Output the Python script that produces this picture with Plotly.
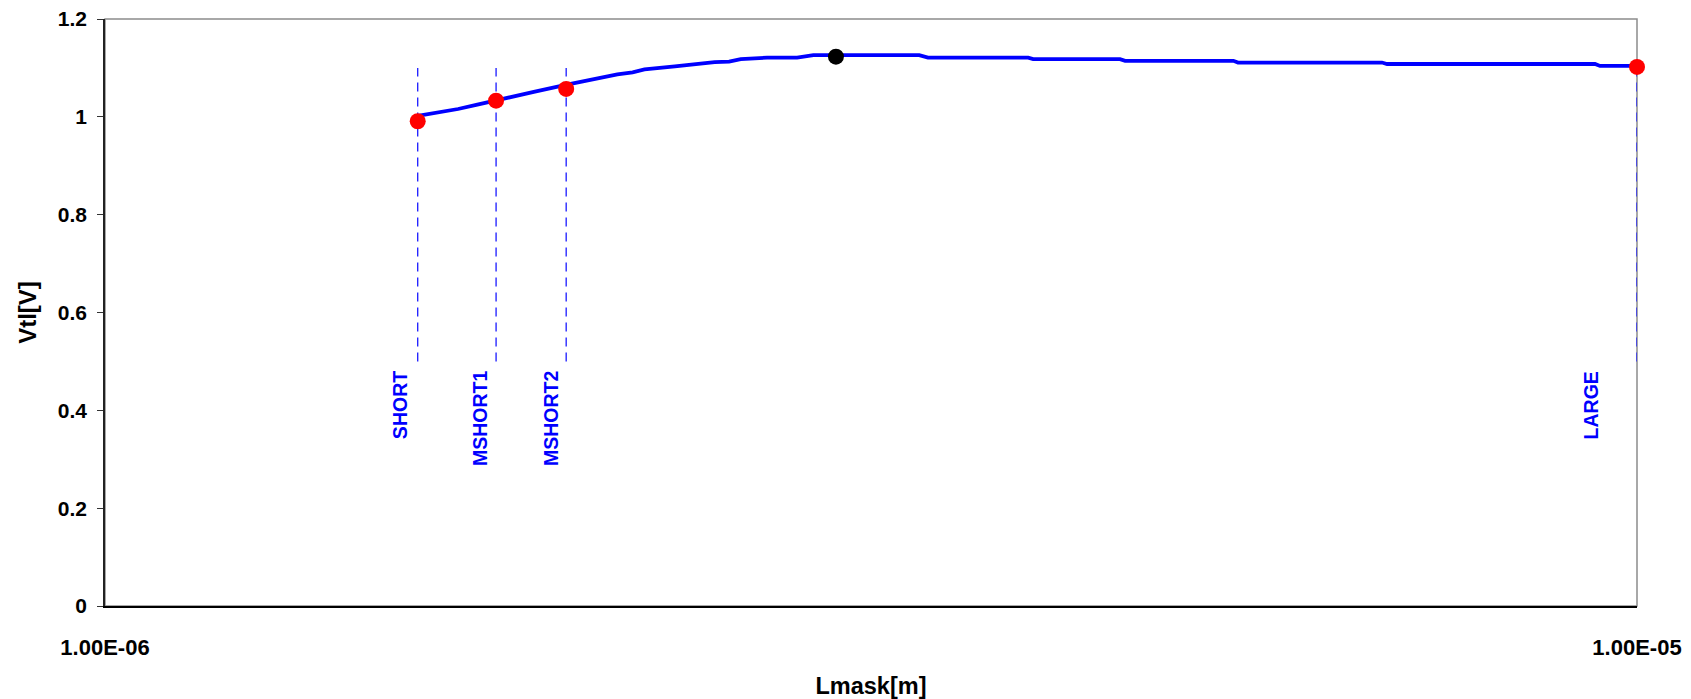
import numpy as np
import plotly.graph_objects as go

# Threshold voltage vs. mask length (log x axis)
L_CURVE = [1.60e-6, 1.70e-6, 1.75e-6, 1.80e-6, 1.85e-6, 1.905e-6, 1.995e-6, 2.10e-6,
           2.16e-6, 2.21e-6, 2.25e-6, 2.355e-6, 2.50e-6, 2.555e-6, 2.60e-6, 2.705e-6,
           2.83e-6, 2.90e-6, 3.40e-6, 3.445e-6, 4.005e-6, 4.035e-6, 4.598e-6, 4.633e-6,
           5.452e-6, 5.490e-6, 6.816e-6, 6.868e-6, 9.389e-6, 9.459e-6, 1.0e-5]
VT_CURVE = [1.002, 1.016, 1.025, 1.033, 1.041, 1.051, 1.065, 1.079,
            1.087, 1.091, 1.097, 1.103, 1.112, 1.113, 1.118, 1.121,
            1.121, 1.126, 1.126, 1.121, 1.121, 1.118, 1.118, 1.1145,
            1.1145, 1.111, 1.111, 1.108, 1.108, 1.104, 1.104]

# Named geometry points
POINT_NAMES = ["SHORT", "MSHORT1", "MSHORT2", "LARGE"]
POINT_L = [1.60e-6, 1.80e-6, 2.00e-6, 1.0e-5]
POINT_VT = [0.991, 1.033, 1.057, 1.102]
LABEL_XSHIFT = [-5, -4, -3, -34]

# Peak point
PEAK_L = [3.0e-6]
PEAK_VT = [1.123]

# Extent of the dashed guide lines
GUIDE_LOW = 0.5
GUIDE_HIGH = 1.1

X_TICKS = [1e-6, 1e-5]
X_TICK_TEXT = ["1.00E-06", "1.00E-05"]
Y_TICKS = [0, 0.2, 0.4, 0.6, 0.8, 1.0, 1.2]
Y_TICK_TEXT = ["0", "0.2", "0.4", "0.6", "0.8", "1", "1.2"]

FONT = "Liberation Sans, Arial, sans-serif"
BLUE = "#0000FF"

fig = go.Figure()

# Dashed guide lines at each named length
for name, lx in zip(POINT_NAMES, POINT_L):
    fig.add_trace(go.Scatter(
        x=[lx, lx], y=[GUIDE_LOW, GUIDE_HIGH], mode="lines",
        line=dict(color="#1a1aff", width=1.3, dash="9px,6px"),
        hoverinfo="skip", showlegend=False, cliponaxis=False))

fig.add_trace(go.Scatter(
    x=L_CURVE, y=VT_CURVE, mode="lines",
    line=dict(color=BLUE, width=3.8), showlegend=False, cliponaxis=False))

fig.add_trace(go.Scatter(
    x=POINT_L, y=POINT_VT, mode="markers",
    marker=dict(color="#FF0000", size=16, line=dict(width=0)),
    showlegend=False, cliponaxis=False))

fig.add_trace(go.Scatter(
    x=PEAK_L, y=PEAK_VT, mode="markers",
    marker=dict(color="#000000", size=16, line=dict(width=0)),
    showlegend=False, cliponaxis=False))

# Rotated labels under the guide lines
for name, lx, dx in zip(POINT_NAMES, POINT_L, LABEL_XSHIFT):
    fig.add_annotation(
        x=np.log10(lx), y=GUIDE_LOW, xref="x", yref="y",
        text="<b>" + name + "</b>", showarrow=False, textangle=-90,
        xanchor="right", yanchor="top", xshift=dx, yshift=-9,
        font=dict(family=FONT, size=19.5, color=BLUE),
        borderpad=0)

# Grey plot-area frame (top and right edges visible)
fig.add_shape(type="rect", xref="paper", yref="paper", x0=0, x1=1, y0=0, y1=1,
              line=dict(color="#8c8c8c", width=1.5), layer="below")

fig.update_layout(
    width=1691, height=699,
    margin=dict(l=105, r=54, t=19, b=93, autoexpand=False),
    paper_bgcolor="white", plot_bgcolor="white",
    font=dict(family=FONT, color="black"),
    showlegend=False,
    xaxis=dict(
        type="log", range=[-6, -5], automargin=False,
        tickvals=X_TICKS, ticktext=X_TICK_TEXT,
        ticks="", showgrid=False, zeroline=False,
        showline=True, linecolor="black", linewidth=1.5,
        tickfont=dict(family=FONT, size=22, color="black", weight="bold"),
        ticklabelstandoff=21,
        title=dict(text="Lmask[m]", standoff=18,
                   font=dict(family=FONT, size=23.5, color="black", weight="bold")),
    ),
    yaxis=dict(
        range=[0, 1.2], automargin=False,
        tickvals=Y_TICKS, ticktext=Y_TICK_TEXT,
        ticks="outside", ticklen=6, tickcolor="#333", tickwidth=1,
        showgrid=False, zeroline=False,
        showline=True, linecolor="#222", linewidth=1.5,
        tickfont=dict(family=FONT, size=21, color="black", weight="bold"),
        ticklabelstandoff=6,
        title=dict(text="Vtl[V]", standoff=14,
                   font=dict(family=FONT, size=24, color="black", weight="bold")),
    ),
)

fig.write_html("out.html")
